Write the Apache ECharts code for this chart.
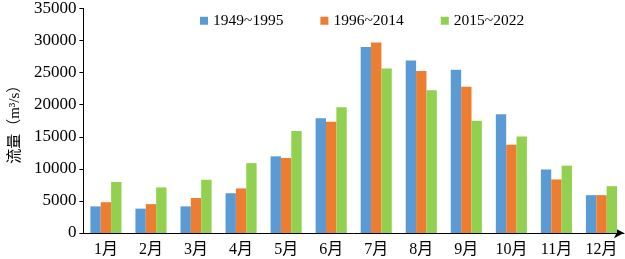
<!DOCTYPE html>
<html lang="zh" style="height: 100%">
<head>
  <meta charset="utf-8">
  <script type="text/javascript" src="https://cdn.jsdelivr.net/npm/echarts@6/dist/echarts.min.js"></script>
</head>
<body style="height: 100%; margin: 0">
  <div id="chart" style="height: 259px; width: 625px"></div>

  <script type="text/javascript">
    var months = ['1月', '2月', '3月', '4月', '5月', '6月', '7月', '8月', '9月', '10月', '11月', '12月'];
    var names = ['1949~1995', '1996~2014', '2015~2022'];
    var p1 = [4150, 3800, 4150, 6200, 11950, 17900, 29000, 26900, 25450, 18500, 9900, 5900];
    var p2 = [4800, 4500, 5450, 6950, 11700, 17350, 29700, 25250, 22800, 13750, 8350, 5900];
    var p3 = [7950, 7100, 8300, 10900, 15900, 19600, 25650, 22250, 17500, 15050, 10500, 7300];
    var colors = ['#5B9BD5', '#ED7D31', '#92D050'];

    var font = '"Liberation Serif", "Noto Sans CJK SC", serif';
    var chart = echarts.init(document.getElementById('chart'));

    function bar(i, data) {
      return {
        name: names[i],
        type: 'bar',
        data: data,
        barGap: '0%',
        barCategoryGap: '31%',
        itemStyle: { color: colors[i] }
      };
    }

    var option = {
      animation: false,
      textStyle: { fontFamily: font },
      legend: {
        top: 8,
        left: 195,
        itemWidth: 8,
        itemHeight: 8,
        itemGap: 37,
        icon: 'rect',
        textStyle: { fontFamily: font, fontSize: 15.5, color: '#000' }
      },
      grid: { left: 72, right: 1, top: 7, bottom: 26 },
      xAxis: {
        type: 'category',
        data: months,
        axisLine: { lineStyle: { color: '#000', width: 1 }, symbol: ['none', 'arrow'], symbolSize: [8, 10] },
        axisTick: { length: 4, lineStyle: { color: '#000' } },
        axisLabel: { fontFamily: font, fontSize: 16, color: '#000', margin: 9 }
      },
      yAxis: {
        type: 'value',
        min: 0,
        max: 35000,
        interval: 5000,
        name: '流量（m³/s）',
        nameLocation: 'middle',
        nameGap: 58,
        nameTextStyle: { fontFamily: font, fontSize: 15, color: '#000' },
        splitLine: { show: false },
        axisLine: { show: true, lineStyle: { color: '#000' } },
        axisTick: { show: true, length: 4, lineStyle: { color: '#000' } },
        axisLabel: {
          fontFamily: font, fontSize: 17, color: '#000', margin: 7,
          formatter: function (v) { return String(v); }
        }
      },
      series: [bar(0, p1), bar(1, p2), bar(2, p3)]
    };

    chart.setOption(option);
  </script>
</body>
</html>
